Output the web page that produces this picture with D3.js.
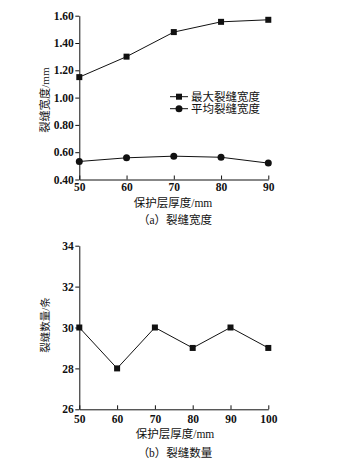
<!DOCTYPE html>
<html><head><meta charset="utf-8">
<script src="https://cdn.jsdelivr.net/npm/d3@7"></script>
<style>
body{margin:0;background:#fff;}
</style></head><body>
<svg id="c" width="351" height="466"></svg>
<script>
// Data
const coverA = [50, 60, 70, 80, 90];
const maxWidth = [1.15, 1.30, 1.48, 1.555, 1.57];
const avgWidth = [0.532, 0.559, 0.571, 0.563, 0.52];
const yTicksA = [0.40, 0.60, 0.80, 1.00, 1.20, 1.40, 1.60];
const seriesNames = ["最大裂缝宽度", "平均裂缝宽度"];

const coverB = [50, 60, 70, 80, 90, 100];
const crackCount = [30, 28, 30, 29, 30, 29];
const yTicksB = [26, 28, 30, 32, 34];

const svg = d3.select("#c");
const FS = 11.5;
const serif = '"Liberation Serif","Times New Roman",serif';
const cjk = '"Liberation Serif","Noto Sans CJK SC",serif';
const ink = "#111";

function axes(g, x, y, xt, yt, yfmt, xpad) {
  const xa = g.append("g").attr("transform", `translate(0,${y.range()[0]})`)
    .call(d3.axisBottom(x).tickValues(xt).tickSizeInner(-4).tickSizeOuter(0).tickPadding(xpad));
  xa.select(".domain").attr("stroke", ink);
  xa.selectAll("line").attr("stroke", ink);
  xa.selectAll("text").attr("font-size", FS).attr("font-family", serif).attr("font-weight", "bold").attr("fill", ink);
  const ya = g.append("g").attr("transform", `translate(${x.range()[0]},0)`)
    .call(d3.axisLeft(y).tickValues(yt).tickFormat(yfmt).tickSizeInner(4).tickSizeOuter(0).tickPadding(1.5));
  ya.select(".domain").attr("stroke", ink);
  ya.selectAll("line").attr("stroke", ink);
  ya.selectAll("text").attr("font-size", FS).attr("font-family", serif).attr("font-weight", "bold").attr("fill", ink);
}

function label(x, y, txt, rot, size) {
  const t = svg.append("text").attr("text-anchor", "middle").attr("dy", "0.36em")
    .attr("font-size", size || 11.5).attr("font-family", cjk).attr("fill", ink).text(txt);
  if (rot) t.attr("transform", `translate(${x},${y}) rotate(-90)`);
  else t.attr("x", x).attr("y", y);
}

const line = (x, y) => d3.line().x(d => x(d[0])).y(d => y(d[1]));

// Chart A
const xA = d3.scaleLinear().domain([50, 90]).range([79.3, 268.3]);
const yA = d3.scaleLinear().domain([0.40, 1.60]).range([179.5, 15.7]);
const gA = svg.append("g");
axes(gA, xA, yA, coverA, yTicksA, d3.format(".2f"), 3);

const mA = coverA.map((c, i) => [c, maxWidth[i]]);
const aA = coverA.map((c, i) => [c, avgWidth[i]]);
gA.append("path").attr("d", line(xA, yA)(mA)).attr("fill", "none").attr("stroke", ink).attr("stroke-width", 1);
gA.append("path").attr("d", line(xA, yA)(aA)).attr("fill", "none").attr("stroke", ink).attr("stroke-width", 1);
gA.selectAll(".sq").data(mA).join("rect")
  .attr("x", d => xA(d[0]) - 3).attr("y", d => yA(d[1]) - 3).attr("width", 6).attr("height", 6).attr("fill", ink);
gA.selectAll(".ci").data(aA).join("circle")
  .attr("cx", d => xA(d[0])).attr("cy", d => yA(d[1])).attr("r", 3.5).attr("fill", ink);

// legend
const lg = gA.append("g");
[0, 1].forEach(i => {
  const ly = 96.7 + i * 12;
  lg.append("line").attr("x1", 170).attr("x2", 188).attr("y1", ly).attr("y2", ly).attr("stroke", ink);
  if (i === 0) lg.append("rect").attr("x", 176).attr("y", ly - 3).attr("width", 6).attr("height", 6).attr("fill", ink);
  else lg.append("circle").attr("cx", 179).attr("cy", ly).attr("r", 3.5).attr("fill", ink);
  lg.append("text").attr("x", 191).attr("y", ly).attr("dy", "0.36em").attr("font-size", 11.5)
    .attr("font-family", cjk).attr("fill", ink).text(seriesNames[i]);
});

label(45, 100, "裂缝宽度/mm", true, 11.2);
label(173, 202.7, "保护层厚度/mm");
label(175, 219.5, "（a）裂缝宽度");

// Chart B
const xB = d3.scaleLinear().domain([50, 100]).range([79.3, 268.3]);
const yB = d3.scaleLinear().domain([26, 34]).range([409.3, 245.7]);
const gB = svg.append("g");
axes(gB, xB, yB, coverB, yTicksB, d3.format("d"), 5.5);
const cB = coverB.map((c, i) => [c, crackCount[i]]);
gB.append("path").attr("d", line(xB, yB)(cB)).attr("fill", "none").attr("stroke", ink).attr("stroke-width", 1);
gB.selectAll(".sq").data(cB).join("rect")
  .attr("x", d => xB(d[0]) - 3).attr("y", d => yB(d[1]) - 3).attr("width", 6).attr("height", 6).attr("fill", ink);

label(45, 325, "裂缝数量/条", true, 10.5);
label(175, 434, "保护层厚度/mm");
label(175, 452.5, "（b）裂缝数量");
</script>
</body></html>
